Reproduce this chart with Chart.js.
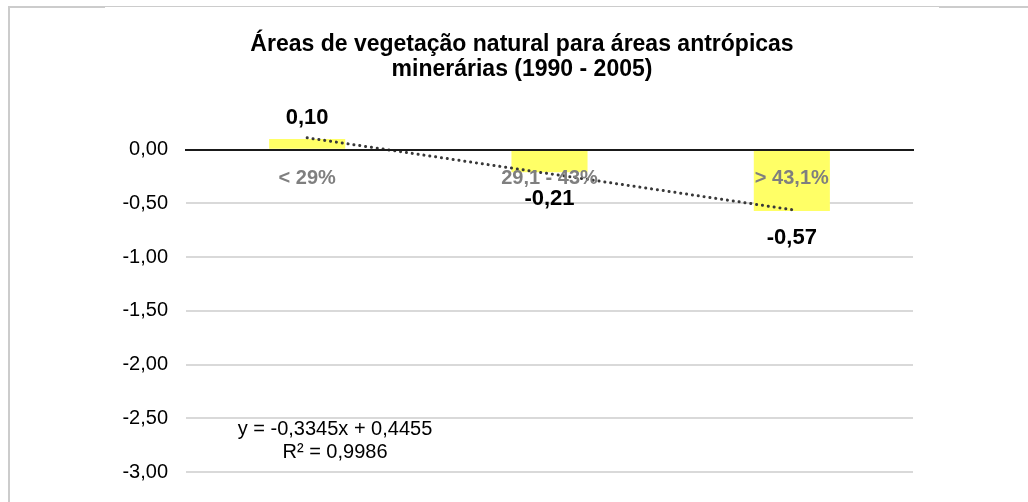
<!DOCTYPE html>
<html><head><meta charset="utf-8">
<script src="https://cdn.jsdelivr.net/npm/chart.js@4/dist/chart.umd.min.js"></script>
<style>html,body{margin:0;padding:0;background:#fff;} canvas{display:block}</style>
</head><body><canvas id="c" width="1028" height="502"></canvas>
<script>
const categories = ['< 29%', '29,1 - 43%', '> 43,1%'];
const values = [0.10, -0.21, -0.57];
const trendValues = [0.111, -0.2235, -0.558];
const titleLines = ['Áreas de vegetação natural para áreas antrópicas', 'minerárias (1990 - 2005)'];
const equationLines = ['y = -0,3345x + 0,4455', 'R² = 0,9986'];
const yMin = -3, yMax = 0.5, yStep = 0.5;
const FONT = "'Liberation Sans', Arial, Helvetica, sans-serif";
const fmt = v => (Math.abs(v) < 1e-9 ? 0 : v).toFixed(2).replace('.', ',');

const extras = {
  id: 'extras',
  beforeDraw(chart) {
    const ctx = chart.ctx;
    ctx.save();
    ctx.fillStyle = '#fff'; ctx.fillRect(0, 0, chart.width, chart.height);
    ctx.fillStyle = '#cccccc';
    ctx.fillRect(8, 6, 2, chart.height - 6);
    ctx.fillRect(8, 6, 97, 2);
    ctx.fillRect(105, 6, 834, 1);
    ctx.fillRect(939, 6, 89, 2);
    ctx.restore();
  },
  afterDraw(chart) {
    const ctx = chart.ctx;
    ctx.save();
    ctx.fillStyle = '#000';
    ctx.textAlign = 'center';
    ctx.textBaseline = 'alphabetic';
    ctx.font = 'bold 23px ' + FONT;
    ctx.fillText(titleLines[0], 522, 51);
    ctx.fillText(titleLines[1], 522, 76);
    ctx.font = '20px ' + FONT;
    ctx.fillText(equationLines[0], 335, 435);
    ctx.fillText(equationLines[1], 335, 458);
    const meta = chart.getDatasetMeta(0);
    ctx.font = 'bold 22px ' + FONT;
    meta.data.forEach((bar, i) => {
      const v = values[i];
      const y = v >= 0 ? bar.y - 15 : bar.y + 33;
      ctx.fillText(fmt(v), bar.x, y);
    });
    ctx.restore();
  }
};

new Chart(document.getElementById('c'), {
  data: {
    labels: categories,
    datasets: [
      { type: 'bar', data: values, backgroundColor: '#ffff66', barPercentage: 0.314, categoryPercentage: 1, order: 2 },
      { type: 'line', data: trendValues, borderColor: '#383838', borderWidth: 3, borderDash: [0.1, 5.8], borderCapStyle: 'round', pointRadius: 0, fill: false, tension: 0, order: 1 }
    ]
  },
  options: {
    responsive: false,
    animation: false,
    layout: { padding: { left: 0, right: 115, top: 96, bottom: 21 } },
    plugins: { legend: { display: false }, tooltip: { enabled: false }, title: { display: false } },
    scales: {
      x: {
        position: { y: 0 },
        grid: { display: false, drawTicks: false },
        border: { display: true, color: '#1a1a1a', width: 2, z: 1 },
        ticks: { z: 1, font: { family: FONT, size: 20, weight: 'bold' }, color: '#7f7f7f', padding: 17, maxRotation: 0, autoSkip: false }
      },
      y: {
        min: yMin, max: yMax,
        afterBuildTicks: s => { s.ticks = s.ticks.filter(t => t.value <= 0.0001); },
        afterFit: s => { s.width = 186; },
        grid: { color: '#d9d9d9', lineWidth: 2, drawTicks: false },
        border: { display: false },
        ticks: { stepSize: yStep, padding: 18, color: '#000', font: { family: FONT, size: 20 }, callback: v => fmt(v) }
      }
    }
  },
  plugins: [extras]
});
</script>
</body></html>
